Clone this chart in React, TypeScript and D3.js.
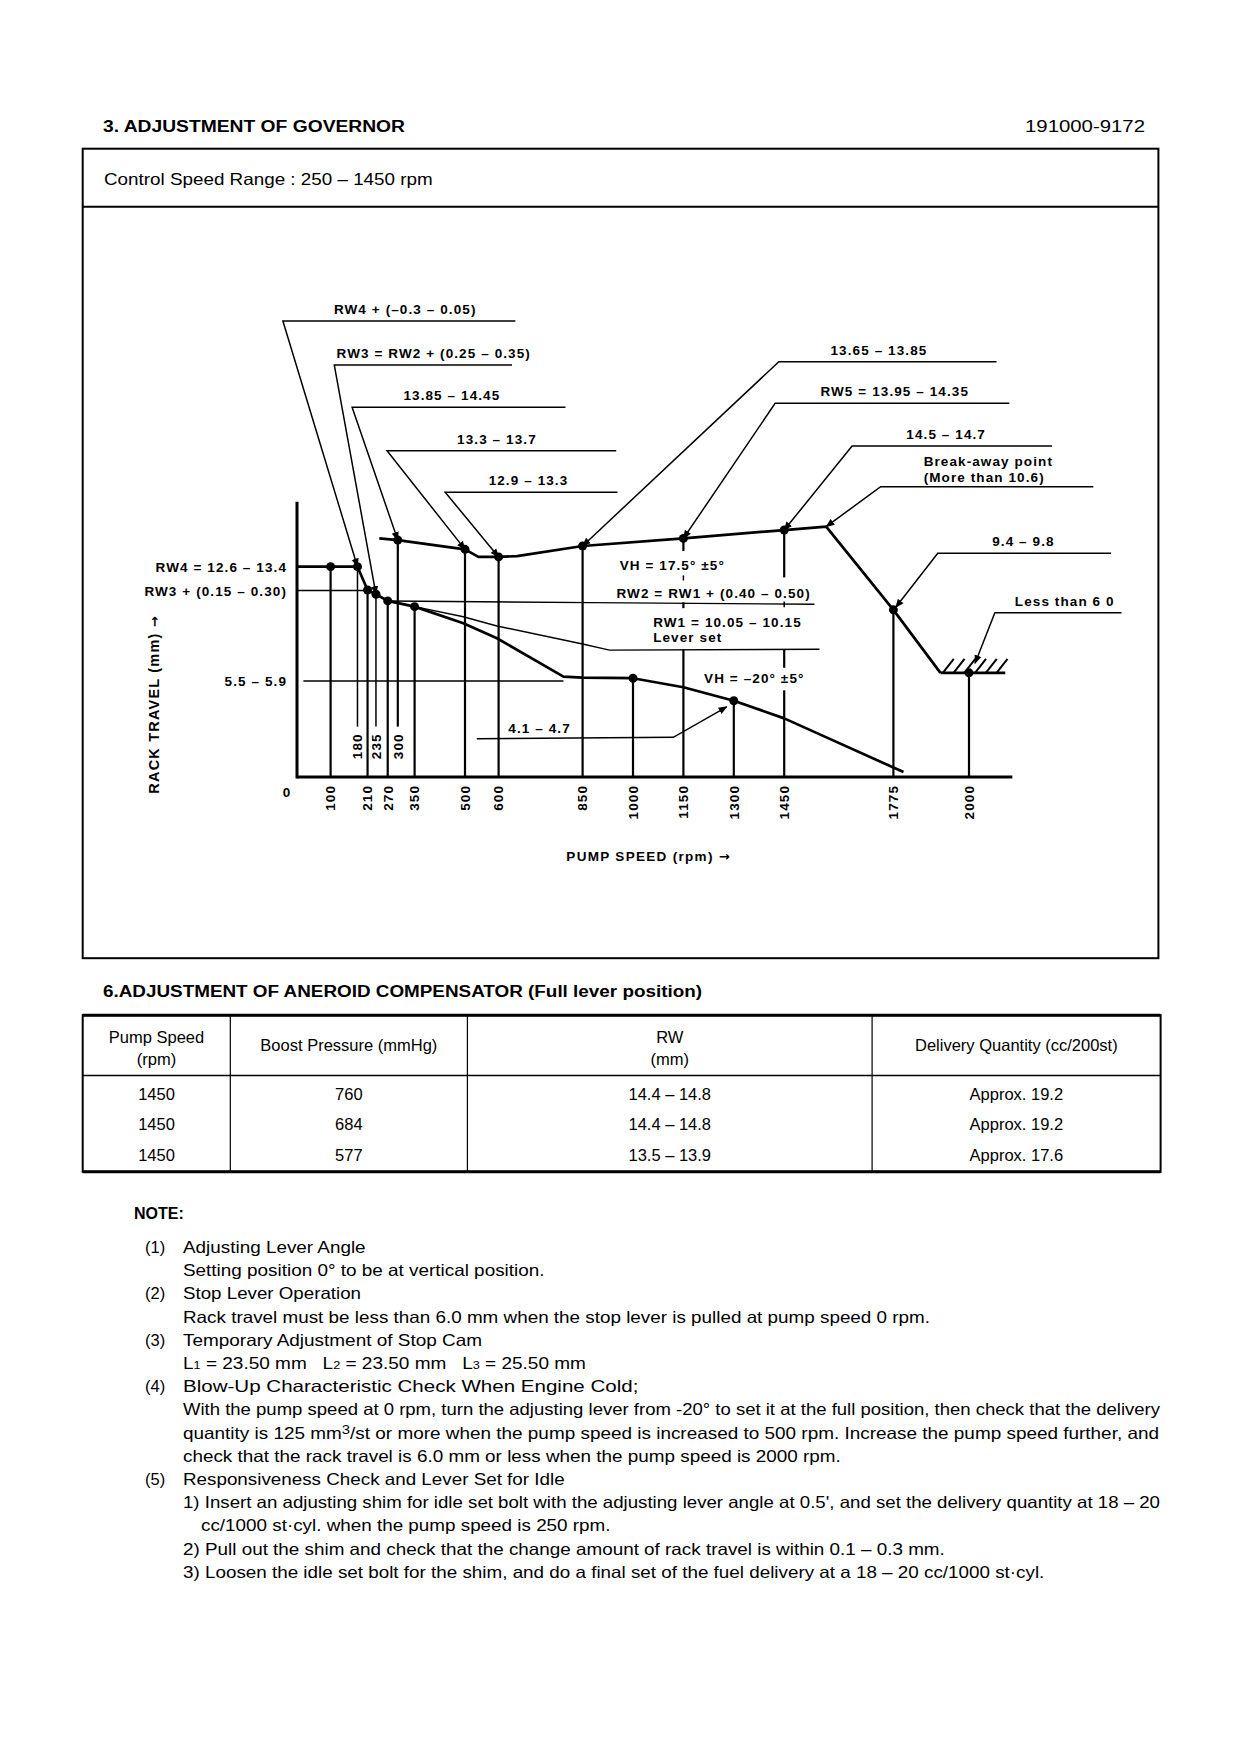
import React from "react";
import * as d3 from "d3";

// governor curve values (rpm / rack travel mm)
const fullRpm = [245, 300, 500, 540, 600, 655, 850, 1150, 1450, 1575, 1775, 1915];
const fullRack = [14.2, 14.1, 13.55, 13.1, 13.1, 13.15, 13.75, 14.2, 14.7, 14.9, 9.95, 6.2];
const stopRpm = [1915, 2108];
const stopRack = [6.2, 6.2];
const idleRpm = [0, 100, 180, 210, 235, 270, 350, 495, 595, 793, 850, 1000, 1150, 1300, 1450, 1780, 1805];
const idleRack = [12.52, 12.52, 12.52, 11.13, 10.88, 10.48, 10.14, 9.15, 8.26, 5.97, 5.91, 5.88, 5.34, 4.54, 3.49, 0.52, 0.3];
const leverRpm = [350, 495, 595, 850, 930, 1555];
const leverRack = [10.14, 9.54, 8.99, 7.92, 7.55, 7.6];
const rw2Rpm = [270, 873, 1540];
const rw2Rack = [10.48, 10.38, 10.28];
const rw3Rpm = [0, 210];
const rw3Rack = [11.1, 11.1];
const midRpm = [19, 793];
const midRack = [5.71, 5.71];

// drop lines from the axis (or from the raised labels) up to the measuring points
const dropRpm = [100, 180, 210, 235, 270, 300, 350, 500, 600, 850, 1000, 1300, 1775, 2000];
const dropTop = [12.52, 12.52, 11.13, 10.88, 10.48, 14.1, 10.14, 13.55, 13.1, 13.75, 5.88, 4.54, 9.95, 6.2];
const dropBase = [0, 3.0, 0, 3.0, 0, 3.0, 0, 0, 0, 0, 0, 0, 0, 0];
const brokenRpm = [1150, 1450];
const brokenSegs = [
  [[14.2, 13.45], [12.0, 11.7], [10.4, 10.05], [7.6, 0]],
  [[14.7, 11.88], [10.45, 10.1], [7.6, 6.5], [5.16, 0]],
];

const dotRpm = [100, 180, 210, 235, 270, 350, 300, 500, 600, 850, 1000, 1150, 1300, 1450, 1775, 2000];
const dotRack = [12.52, 12.52, 11.13, 10.88, 10.48, 10.14, 14.1, 13.55, 13.1, 13.75, 5.88, 14.2, 4.54, 14.7, 9.95, 6.2];

const tickMain = [100, 210, 270, 350, 500, 600, 850, 1000, 1150, 1300, 1450, 1775, 2000];
const tickRaised = [180, 235, 300];

// [label, label rpm, leader level, corner rpm, end rpm, target rpm, target rack]
const leaders: [string, number, number, number, number, number, number][] = [
  ["RW4 + (–0.3 – 0.05)", 322, 27.14, -42, 650, 180, 12.52],
  ["RW3 = RW2 + (0.25 – 0.35)", 407, 24.52, 111, 640, 235, 10.88],
  ["13.85 – 14.45", 461, 22.01, 164, 799, 300, 14.1],
  ["13.3 – 13.7", 595, 19.42, 268, 950, 500, 13.55],
  ["12.9 – 13.3", 689, 16.95, 441, 954, 600, 13.1],
  ["13.65 – 13.85", 1732, 24.72, 1434, 2082, 850, 13.75],
  ["RW5 = 13.95 – 14.35", 1779, 22.24, 1423, 2120, 1150, 14.2],
  ["14.5 – 14.7", 1932, 19.7, 1652, 2247, 1450, 14.7],
  ["", 1865, 17.28, 1737, 2370, 1575, 14.9],
  ["9.4 – 9.8", 2162, 13.32, 1907, 2423, 1782, 10.1],
  ["Less than 6 0", 2285, 9.78, 2077, 2454, 2018, 6.77],
];

const leftLabels = ["RW4 = 12.6 – 13.4", "RW3 + (0.15 – 0.30)", "5.5 – 5.9"];
const leftLevels = [12.52, 11.1, 5.71];

// [text, rpm, rack, anchor]
const notes: [string, number, number, string][] = [
  ["VH = 17.5° ±5°", 1117, 12.32, "middle"],
  ["RW2 = RW1 + (0.40 – 0.50)", 1240, 10.64, "middle"],
  ["RW1 = 10.05 – 10.15", 1060, 8.95, "start"],
  ["Lever set", 1060, 8.02, "start"],
  ["VH = –20° ±5°", 1361, 5.58, "middle"],
  ["4.1 – 4.7", 722, 2.6, "middle"],
  ["Break-away point", 1865, 18.53, "start"],
  ["(More than 10.6)", 1865, 17.58, "start"],
];
const pointerRpm = [535, 1120, 1279];
const pointerRack = [2.28, 2.36, 4.18];

// aneroid compensator table
const tblSpeed = ["1450", "1450", "1450"];
const tblBoost = ["760", "684", "577"];
const tblRW = ["14.4 – 14.8", "14.4 – 14.8", "13.5 – 13.9"];
const tblQty = ["Approx. 19.2", "Approx. 19.2", "Approx. 17.6"];

const NARROW = "'Liberation Sans Narrow', 'Arial Narrow', 'Liberation Sans', Arial, sans-serif";
const CHART = "'Liberation Sans', Arial, sans-serif";

const x = d3.scaleLinear().domain([0, 2000]).range([297, 969]);
const y = d3.scaleLinear().domain([0, 16]).range([777, 508.2]);
const line = d3
  .line<[number, number]>()
  .x((d) => x(d[0]))
  .y((d) => y(d[1]));
const zip = (a: number[], b: number[]) => a.map((v, i) => [v, b[i]] as [number, number]);

const chartText = {
  fontFamily: CHART,
  fontWeight: 700,
  fontSize: 13.5,
  letterSpacing: 1.1,
  fill: "#000",
} as const;

const noteRows: [string, string, number, number][] = [
  ["(1)", "Adjusting Lever Angle", 183, 365.6],
  ["", "Setting position 0° to be at vertical position.", 183, 544.5],
  ["(2)", "Stop Lever Operation", 183, 361],
  ["", "Rack travel must be less than 6.0 mm when the stop lever is pulled at pump speed 0 rpm.", 183, 930],
  ["(3)", "Temporary Adjustment of Stop Cam", 183, 482],
  ["", "L1", 183, 585.9],
  ["(4)", "Blow-Up Characteristic Check When Engine Cold;", 183, 638.4],
  ["", "With the pump speed at 0 rpm, turn the adjusting lever from -20° to set it at the full position, then check that the delivery", 183, 1160],
  ["", "QTY", 183, 1159],
  ["", "check that the rack travel is 6.0 mm or less when the pump speed is 2000 rpm.", 183, 840.8],
  ["(5)", "Responsiveness Check and Lever Set for Idle", 183, 564.6],
  ["", "1) Insert an adjusting shim for idle set bolt with the adjusting lever angle at 0.5', and set the delivery quantity at 18 – 20", 183, 1160],
  ["", "cc/1000 st·cyl. when the pump speed is 250 rpm.", 201, 610.5],
  ["", "2) Pull out the shim and check that the change amount of rack travel is within 0.1 – 0.3 mm.", 183, 944.8],
  ["", "3) Loosen the idle set bolt for the shim, and do a final set of the fuel delivery at a 18 – 20 cc/1000 st·cyl.", 183, 1044.3],
];

const Arrow = () => (
  <tspan style={{ fontFamily: "'DejaVu Sans', sans-serif", fontSize: 13, letterSpacing: 0 }}>→</tspan>
);

const Chart = () => {
  const hatch = d3.range(6).map((i) => 1922 + i * 32);
  return (
    <g>
      <defs>
        <marker id="arr" viewBox="0 0 10 10" refX="9" refY="5" markerWidth="6" markerHeight="6" orient="auto-start-reverse">
          <path d="M0,1 L10,5 L0,9 z" fill="#000" />
        </marker>
      </defs>
      {/* axes */}
      <line x1={x(0)} x2={x(0)} y1={y(0) + 1.5} y2={y(16.39)} stroke="#000" strokeWidth={3} />
      <line x1={x(0)} x2={x(2129)} y1={y(0)} y2={y(0)} stroke="#000" strokeWidth={3} />

      {/* thin reference lines */}
      {[zip(rw3Rpm, rw3Rack), zip(rw2Rpm, rw2Rack), zip(midRpm, midRack), zip(leverRpm, leverRack)].map((d, i) => (
        <path key={"t" + i} d={line(d)!} fill="none" stroke="#000" strokeWidth={1.4} />
      ))}

      {/* drop lines */}
      {dropRpm.map((r, i) => (
        <line
          key={"d" + r}
          x1={x(r)}
          x2={x(r)}
          y1={y(dropBase[i])}
          y2={y(dropTop[i])}
          stroke="#000"
          strokeWidth={dropBase[i] > 0 && r !== 300 ? 1.5 : 2.2}
        />
      ))}
      {brokenRpm.map((r, i) =>
        brokenSegs[i].map((s, j) => (
          <line key={"b" + r + j} x1={x(r)} x2={x(r)} y1={y(s[0])} y2={y(s[1])} stroke="#000" strokeWidth={j === 1 ? 1.5 : 2.2} />
        ))
      )}

      {/* curves */}
      <path d={line(zip(fullRpm, fullRack))!} fill="none" stroke="#000" strokeWidth={2.7} strokeLinejoin="round" />
      <path d={line(zip(idleRpm, idleRack))!} fill="none" stroke="#000" strokeWidth={2.7} strokeLinejoin="round" />
      <path d={line(zip(stopRpm, stopRack))!} fill="none" stroke="#000" strokeWidth={2.7} />
      {hatch.map((r) => (
        <line key={"h" + r} x1={x(r)} x2={x(r) + 11} y1={y(6.2)} y2={y(6.2) - 14} stroke="#000" strokeWidth={2} />
      ))}

      {dotRpm.map((r, i) => (
        <circle key={"p" + i} cx={x(r)} cy={y(dotRack[i])} r={4.5} fill="#000" />
      ))}

      {/* leaders */}
      {leaders.map(([label, lr, lv, c, e, tr, tv], i) => (
        <g key={"l" + i}>
          <path
            d={`M${x(e)},${y(lv)} L${x(c)},${y(lv)} L${x(tr)},${y(tv)}`}
            fill="none"
            stroke="#000"
            strokeWidth={1.5}
            markerEnd="url(#arr)"
          />
          {label && (
            <text x={x(lr)} y={y(lv) - 7} textAnchor="middle" style={chartText}>
              {label}
            </text>
          )}
        </g>
      ))}
      <path d={line(zip(pointerRpm, pointerRack))!} fill="none" stroke="#000" strokeWidth={1.5} markerEnd="url(#arr)" />

      {leftLabels.map((t, i) => (
        <text key={"ll" + i} x={x(0) - 10} y={y(leftLevels[i]) + 5} textAnchor="end" style={chartText}>
          {t}
        </text>
      ))}
      {notes.map(([t, r, v, a], i) => (
        <text key={"n" + i} x={x(r)} y={y(v)} textAnchor={a as any} style={chartText}>
          {t}
        </text>
      ))}

      {/* tick labels */}
      <text x={x(0) - 10} y={y(0) + 20} textAnchor="middle" style={chartText}>
        0
      </text>
      {tickMain.map((t) => (
        <text key={"k" + t} transform={`translate(${x(t) + 4.8},${y(0) + 8}) rotate(-90)`} textAnchor="end" style={chartText}>
          {t}
        </text>
      ))}
      {tickRaised.map((t) => (
        <text key={"r" + t} transform={`translate(${x(t) + 4.8},${y(2.6)}) rotate(-90)`} textAnchor="end" style={chartText}>
          {t}
        </text>
      ))}

      <text x={648} y={861} textAnchor="middle" style={{ ...chartText, fontSize: 13.5, letterSpacing: 1.3 }}>
        PUMP SPEED (rpm) <Arrow />
      </text>
      <text transform="translate(159,705) rotate(-90)" textAnchor="middle" style={{ ...chartText, fontSize: 14.5, letterSpacing: 1.2 }}>
        RACK TRAVEL (mm) <Arrow />
      </text>
    </g>
  );
};

const App = () => {
  const pageText = { fontFamily: NARROW, fontSize: 16.5, fill: "#000" } as const;
  const colX = [82.7, 230.3, 467.4, 872.1, 1160.6];
  const colMid = colX.slice(0, 4).map((c, i) => (c + colX[i + 1]) / 2);
  const rowY = [1099.5, 1129.7, 1161];
  const cells = [tblSpeed, tblBoost, tblRW, tblQty];
  const noteY = (i: number) => 1253 + i * 23.2;

  return (
    <svg
      width={1240}
      height={1754}
      style={{ position: "absolute", left: 0, top: 0, background: "#fff" }}
    >
      <rect width={1240} height={1754} fill="#fff" />
      <text x={103} y={132} style={{ ...pageText, fontWeight: 700, fontSize: 16 }} textLength={302} lengthAdjust="spacingAndGlyphs">
        3. ADJUSTMENT OF GOVERNOR
      </text>
      <text x={1145} y={132} textAnchor="end" style={pageText} textLength={120} lengthAdjust="spacingAndGlyphs">
        191000-9172
      </text>

      <rect x={82.7} y={148.7} width={1075.7} height={809.5} fill="none" stroke="#000" strokeWidth={2} />
      <line x1={82.7} x2={1158.4} y1={206.8} y2={206.8} stroke="#000" strokeWidth={2} />
      <text x={104} y={185} style={pageText} textLength={328.7} lengthAdjust="spacingAndGlyphs">
        Control Speed Range : 250 – 1450 rpm
      </text>

      <Chart />

      <text x={103} y={996.6} style={{ ...pageText, fontWeight: 700, fontSize: 16 }} textLength={599} lengthAdjust="spacingAndGlyphs">
        6.ADJUSTMENT OF ANEROID COMPENSATOR (Full lever position)
      </text>

      <rect x={82.7} y={1015.2} width={1077.9} height={156.6} fill="none" stroke="#000" strokeWidth={2} />
      <line x1={82.7} x2={1160.6} y1={1015.2} y2={1015.2} stroke="#000" strokeWidth={3} />
      <line x1={82.7} x2={1160.6} y1={1171.8} y2={1171.8} stroke="#000" strokeWidth={3} />
      <line x1={82.7} x2={1160.6} y1={1075.6} y2={1075.6} stroke="#000" strokeWidth={1.5} />
      {colX.slice(1, 4).map((c) => (
        <line key={c} x1={c} x2={c} y1={1015.2} y2={1171.8} stroke="#000" strokeWidth={1.2} />
      ))}
      <text x={colMid[0]} y={1042.5} textAnchor="middle" style={pageText}>Pump Speed</text>
      <text x={colMid[0]} y={1064.8} textAnchor="middle" style={pageText}>(rpm)</text>
      <text x={colMid[1]} y={1051.4} textAnchor="middle" style={pageText}>Boost Pressure (mmHg)</text>
      <text x={colMid[2]} y={1042.5} textAnchor="middle" style={pageText}>RW</text>
      <text x={colMid[2]} y={1064.8} textAnchor="middle" style={pageText}>(mm)</text>
      <text x={colMid[3]} y={1051.4} textAnchor="middle" style={pageText}>Delivery Quantity (cc/200st)</text>
      {cells.map((col, ci) =>
        col.map((v, ri) => (
          <text key={ci + "-" + ri} x={colMid[ci]} y={rowY[ri]} textAnchor="middle" style={pageText}>
            {v}
          </text>
        ))
      )}

      <text x={134} y={1219} style={{ ...pageText, fontWeight: 700, fontSize: 16 }}>NOTE:</text>
      {noteRows.map(([num, t, x0, x1], i) => (
        <g key={"nr" + i}>
          {num && (
            <text x={145} y={noteY(i)} style={pageText}>
              {num}
            </text>
          )}
          {t === "L1" ? (
            <text x={x0} y={noteY(i)} style={pageText} textLength={x1 - x0} lengthAdjust="spacingAndGlyphs" xmlSpace="preserve">
              L<tspan fontSize={11}>1</tspan> = 23.50 mm   L<tspan fontSize={11}>2</tspan> = 23.50 mm   L<tspan fontSize={11}>3</tspan> = 25.50 mm
            </text>
          ) : t === "QTY" ? (
            <text x={x0} y={noteY(i)} style={pageText} textLength={x1 - x0} lengthAdjust="spacingAndGlyphs">
              quantity is 125 mm<tspan dy={-5} fontSize={13}>3</tspan>
              <tspan dy={5}>/st or more when the pump speed is increased to 500 rpm. Increase the pump speed further, and</tspan>
            </text>
          ) : (
            <text x={x0} y={noteY(i)} style={pageText} textLength={x1 - x0} lengthAdjust="spacingAndGlyphs">
              {t}
            </text>
          )}
        </g>
      ))}
    </svg>
  );
};

export default App;
